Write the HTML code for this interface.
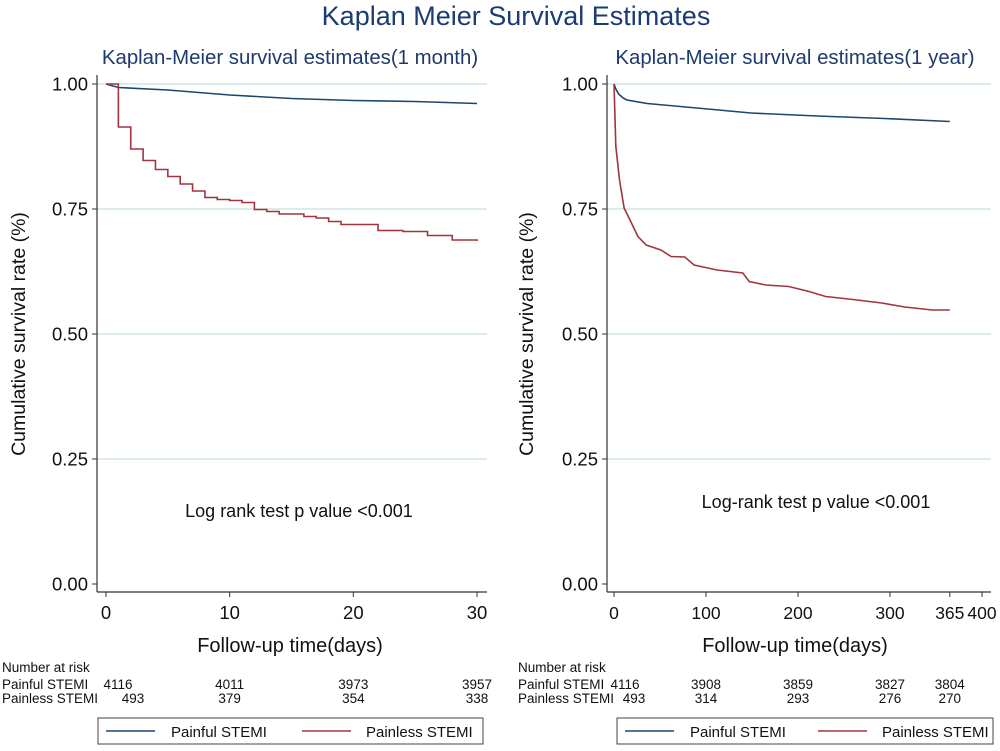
<!DOCTYPE html>
<html><head><meta charset="utf-8"><style>
body{margin:0;background:#fff;}
svg text{font-family:"Liberation Sans",Arial,sans-serif;}
</style></head><body>
<svg id="c" width="1000" height="746" xmlns="http://www.w3.org/2000/svg">
<text x="516" y="25" text-anchor="middle" font-size="27" fill="#1a3b73">Kaplan Meier Survival Estimates</text>
</svg>
<script>
// Panel 1 (1 month)
const m_ticksX = [0,10,20,30];
const m_ticksY = [0,0.25,0.5,0.75,1.0];
const m_painfulT = [0,1,5,10,15,20,25,30];
const m_painfulS = [1.0,0.993,0.988,0.978,0.971,0.967,0.965,0.961];
const m_painlessT = [0,1,2,3,4,5,6,7,8,9,10,11,12,13,14,16,17,18,19,22,24,26,28,30];
const m_painlessS = [1.0,0.914,0.870,0.847,0.829,0.815,0.800,0.786,0.773,0.769,0.767,0.763,0.749,0.745,0.740,0.735,0.732,0.725,0.719,0.707,0.705,0.697,0.688,0.686];
const m_riskPainful = [4116,4011,3973,3957];
const m_riskPainless = [493,379,354,338];
// Panel 2 (1 year)
const y_ticksX = [0,100,200,300,365,400];
const y_ticksY = [0,0.25,0.5,0.75,1.0];
const y_painfulT = [0,2,5,10,14,36,90,149,221,294,365];
const y_painfulS = [1.0,0.99,0.98,0.972,0.968,0.961,0.952,0.942,0.936,0.931,0.925];
const y_painlessT = [0,2,6,11,19,26,35,51,62,77,87,112,140,147,165,190,212,230,255,291,316,346,365];
const y_painlessS = [1.0,0.875,0.808,0.752,0.722,0.695,0.678,0.668,0.655,0.654,0.638,0.628,0.622,0.605,0.598,0.595,0.585,0.575,0.570,0.562,0.554,0.548,0.548];
const y_riskT = [0,100,200,300,365];
const y_riskPainful = [4116,3908,3859,3827,3804];
const y_riskPainless = [493,314,293,276,270];

const svg=document.getElementById('c');
const NS='http://www.w3.org/2000/svg';
function el(tag,attrs,text){const e=document.createElementNS(NS,tag);for(const k in attrs)e.setAttribute(k,attrs[k]);if(text!==undefined)e.textContent=text;svg.appendChild(e);return e;}

function panel(o){
  const sx=v=>o.x0+(v-o.d0)*(o.x1-o.x0)/(o.d1-o.d0);
  const sy=v=>584-v*500;
  let t=el('text',{x:o.subX,y:64,'text-anchor':'middle','font-size':20.4,fill:'#1e3a6e'},o.sub);
  
  
  o.ticksY.forEach(v=>{
    if(v>0){const g=el('line',{x1:o.ax,x2:o.right,y1:sy(v),y2:sy(v),stroke:'#cfe5e3','stroke-width':1.5});
    
    }
    const k=el('line',{x1:o.ax-5,x2:o.ax,y1:sy(v),y2:sy(v),stroke:'#333'});
    
    
    const l=el('text',{x:o.ax-9,y:sy(v)+6.5,'text-anchor':'end','font-size':18.5,fill:'#111'},v.toFixed(2));
    
    
  });
  let a=el('line',{x1:o.ax,x2:o.ax,y1:75,y2:592,stroke:'#333','stroke-width':1.2});
  
  
  a=el('line',{x1:o.ax,x2:o.right,y1:592,y2:592,stroke:'#333','stroke-width':1.2});
  
  
  o.ticksX.forEach(v=>{
    const k=el('line',{x1:sx(v),x2:sx(v),y1:592,y2:597,stroke:'#333'});
    
    
    const l=el('text',{x:sx(v),y:619,'text-anchor':'middle','font-size':o.xfs,fill:'#111'},String(v));
    
    
  });
  t=el('text',{x:o.subX,y:652,'text-anchor':'middle','font-size':20,fill:'#111'},'Follow-up time(days)');
  
  
  t=el('text',{x:o.ytX,y:334,'text-anchor':'middle','font-size':19.5,fill:'#111',transform:`rotate(-90 ${o.ytX} 334)`},'Cumulative survival rate (%)');
  
  
  function curve(T,S,color,name,stepped){
    let d=`M${sx(T[0])},${sy(S[0])}`;
    for(let i=1;i<T.length;i++){d+=stepped?`H${sx(T[i])}V${sy(S[i])}`:`L${sx(T[i])},${sy(S[i])}`;}
    const p=el('path',{d:d,fill:'none',stroke:color,'stroke-width':1.6});
    
    
  }
  curve(o.pfT,o.pfS,'#1a476f','painful-stemi-curve',false);
  curve(o.plT,o.plS,'#a0353f','painless-stemi-curve',o.stepRed);
  t=el('text',{x:o.noteX,y:o.noteY,'text-anchor':'middle','font-size':18,fill:'#111'},o.note);
  
  
  t=el('text',{x:o.tblX,y:672,'font-size':13.5,fill:'#111'},'Number at risk');
  
  
  t=el('text',{x:o.tblX,y:689,'font-size':13.5,fill:'#111'},o.pfLabel);
  
  
  t=el('text',{x:o.tblX,y:703,'font-size':13.5,fill:'#111'},'Painless STEMI');
  
  
  o.riskT.forEach((v,i)=>{
    const off1=i===0?o.off1:0, off2=i===0?o.off2:0;
    let n=el('text',{x:sx(v)+off1,y:689,'text-anchor':'middle','font-size':13.5,fill:'#111'},String(o.rPf[i]));
    
    
    n=el('text',{x:sx(v)+off2,y:703,'text-anchor':'middle','font-size':13.5,fill:'#111'},String(o.rPl[i]));
    
    
  });
  const b=el('rect',{x:o.lgX,y:718,width:o.lgW,height:26,fill:'#fff',stroke:'#444'});
  
  
  let s=el('line',{x1:o.lgX+8,x2:o.lgX+57,y1:731,y2:731,stroke:'#1a476f','stroke-width':1.6});
  
  
  s=el('text',{x:o.lgX+73,y:737,'font-size':15,fill:'#111'},'Painful STEMI');
  
  
  s=el('line',{x1:o.lgX+o.lg2,x2:o.lgX+o.lg2+49,y1:731,y2:731,stroke:'#a0353f','stroke-width':1.6});
  
  
  s=el('text',{x:o.lgX+o.lg2+64,y:737,'font-size':15,fill:'#111'},'Painless STEMI');
  
  
}
panel({x0:106,x1:477,d0:0,d1:30,ax:97,right:487,sub:'Kaplan-Meier survival estimates(1 month)',subX:290,ytX:25,stepRed:true,xfs:18.5,
  ticksX:m_ticksX,ticksY:m_ticksY,pfT:m_painfulT,pfS:m_painfulS,plT:m_painlessT,plS:m_painlessS,
  note:'Log rank test p value <0.001',noteX:299,noteY:517,tblX:2,pfLabel:'Painful STEMI',riskT:m_ticksX,rPf:m_riskPainful,rPl:m_riskPainless,off1:12,off2:27,lgX:98,lgW:385,lg2:204});
panel({x0:614,x1:890,d0:0,d1:300,ax:607,right:991,sub:'Kaplan-Meier survival estimates(1 year)',subX:795,ytX:533,stepRed:false,xfs:17.5,
  ticksX:y_ticksX,ticksY:y_ticksY,pfT:y_painfulT,pfS:y_painfulS,plT:y_painlessT,plS:y_painlessS,
  note:'Log-rank test p value <0.001',noteX:816,noteY:508,tblX:518,pfLabel:'Painful  STEMI',riskT:y_riskT,rPf:y_riskPainful,rPl:y_riskPainless,off1:11,off2:20,lgX:617,lgW:376,lg2:201});
</script>
</body></html>
